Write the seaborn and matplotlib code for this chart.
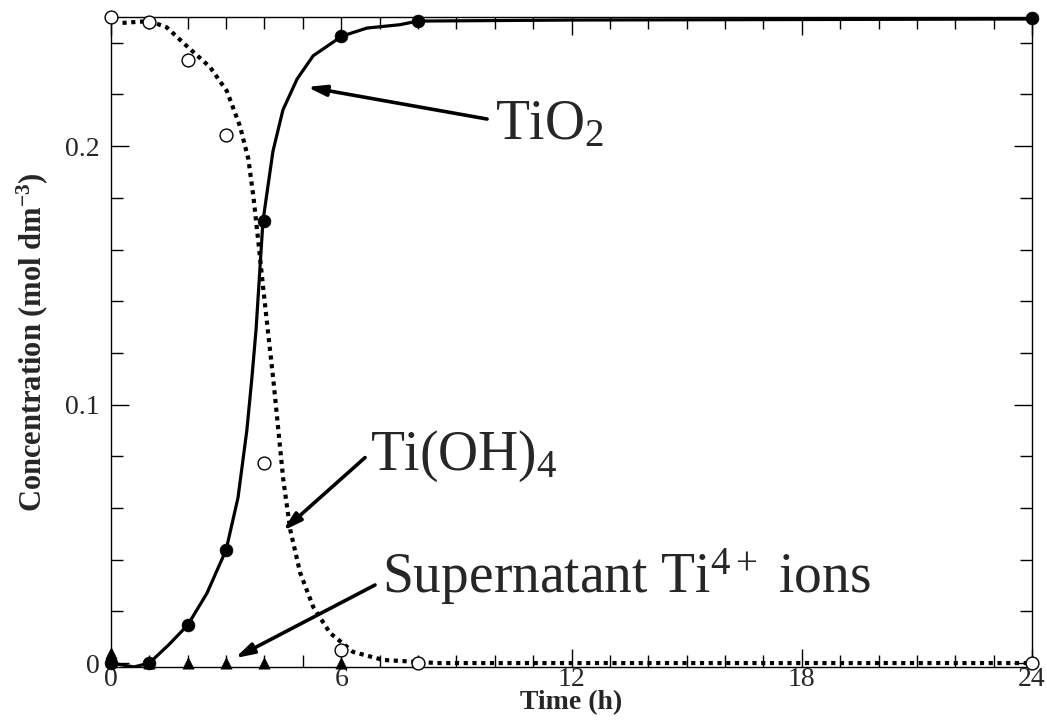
import numpy as np
import pandas as pd
import matplotlib
matplotlib.use("Agg")
import matplotlib.pyplot as plt
import seaborn as sns
from matplotlib.ticker import MultipleLocator, FixedLocator

# measured points
tio2_t = [0, 1, 2, 3, 4, 6, 8, 24]
tio2_c = [0.0, 0.0, 0.0147, 0.0438, 0.171, 0.2426, 0.2484, 0.2496]

tioh4_t = [0, 1, 2, 3, 4, 6, 8, 24]
tioh4_c = [0.25, 0.248, 0.2333, 0.2043, 0.0775, 0.005, 0.0, 0.0]

super_t = [0, 1, 2, 3, 4, 6]
super_c = [0.004, 0.0, 0.0, 0.0, 0.0, 0.0]

# fitted curves
tio2_fit_t = [0, 0.6, 1.0, 1.5, 2.0, 2.5, 3.0, 3.31, 3.54, 3.67, 3.78, 3.96,
              4.22, 4.48, 4.85, 5.27, 6.02, 6.67, 7.53, 8.0, 12, 24]
tio2_fit_c = [0.0, -0.0015, 0.0, 0.007, 0.0147, 0.027, 0.0438, 0.064, 0.090,
              0.110, 0.129, 0.171, 0.198, 0.214, 0.226, 0.235, 0.2426, 0.2457,
              0.247, 0.2484, 0.2488, 0.2492]

tioh4_fit_t = [0.3, 1.0, 1.45, 1.97, 2.58, 3.02, 3.36, 3.58, 3.71, 3.84, 3.96,
               4.10, 4.23, 4.36, 4.49, 4.67, 4.93, 5.27, 5.71, 6.31, 7.09, 8.5, 24]
tioh4_fit_c = [0.2477, 0.2484, 0.246, 0.2388, 0.2306, 0.2213, 0.2078, 0.195,
               0.1806, 0.163, 0.146, 0.127, 0.1097, 0.0903, 0.0709, 0.0516,
               0.0349, 0.0217, 0.0116, 0.0043, 0.0012, 0.0, 0.0]

sns.set_style("ticks")
plt.rcParams['font.family'] = ['Liberation Serif', 'DejaVu Serif']
plt.rcParams['mathtext.fontset'] = 'custom'
plt.rcParams['mathtext.rm'] = 'Liberation Serif'
plt.rcParams['mathtext.it'] = 'Liberation Serif:italic'
plt.rcParams['mathtext.bf'] = 'Liberation Serif:bold'

fig = plt.figure(figsize=(10.47, 7.21), dpi=100)
ax = fig.add_axes([0.106, 0.075, 0.8797, 0.9015])

sns.lineplot(x=tio2_fit_t, y=tio2_fit_c, ax=ax, color='black', lw=2.3,
             sort=False, estimator=None)
sns.lineplot(x=tioh4_fit_t, y=tioh4_fit_c, ax=ax, color='black', lw=3,
             sort=False, estimator=None, linestyle=(0, (1, 1.1)))

sns.scatterplot(x=tioh4_t, y=tioh4_c, ax=ax, marker='o', s=85,
                facecolor='white', edgecolor='black', linewidth=1.0,
                clip_on=False, zorder=4)
sns.scatterplot(x=super_t, y=super_c, ax=ax, marker='^', s=65,
                color='black', edgecolor='black', linewidth=0.5,
                clip_on=False, zorder=5)
sns.scatterplot(x=tio2_t, y=tio2_c, ax=ax, marker='o', s=85,
                color='black', edgecolor='black', linewidth=0.5,
                clip_on=False, zorder=5)

ax.set_xlim(0, 24)
ax.set_ylim(-0.0015, 0.25)
ax.xaxis.set_major_locator(FixedLocator([0, 6, 12, 18, 24]))
ax.xaxis.set_minor_locator(MultipleLocator(1))
ax.yaxis.set_major_locator(FixedLocator([0, 0.1, 0.2]))
ax.yaxis.set_minor_locator(MultipleLocator(0.02))
ax.set_yticklabels(['0', '0.1', '0.2'])
ax.tick_params(which='both', direction='in', top=True, right=True,
               labelsize=20, width=1.0, color='black')
ax.tick_params(which='major', length=13)
ax.tick_params(which='minor', length=8.5)
ax.tick_params(axis='x', pad=0)
ax.tick_params(axis='y', pad=8)
for sp in ax.spines.values():
    sp.set_visible(True)
    sp.set_linewidth(1.0)
    sp.set_color('black')

ax.set_xlabel('Time (h)', fontsize=20, fontweight='bold', labelpad=-1)
ax.set_ylabel(r'Concentration (mol dm$^{\mathbf{-3}}$)', fontsize=22,
              fontweight='bold', labelpad=11)

arrow = dict(arrowstyle='-|>,head_length=1.1,head_width=0.32', lw=2.6,
             color='black', shrinkA=0, shrinkB=0)
ax.annotate('', xy=(5.11, 0.2229), xytext=(9.80, 0.2105), arrowprops=arrow)
ax.annotate('', xy=(4.48, 0.0512), xytext=(6.62, 0.0795), arrowprops=arrow)
ax.annotate('', xy=(3.23, 0.0019), xytext=(6.88, 0.0302), arrowprops=arrow)

ax.text(10.0, 0.2027, r'TiO$_2$', fontsize=40, ha='left', va='baseline')
ax.text(6.75, 0.0748, r'Ti(OH)$_4$', fontsize=40, ha='left', va='baseline')
ax.text(7.06, 0.0271, r'Supernatant Ti$^{4+}$ ions', fontsize=40,
        ha='left', va='baseline')

fig.savefig('out.png', dpi=100)
